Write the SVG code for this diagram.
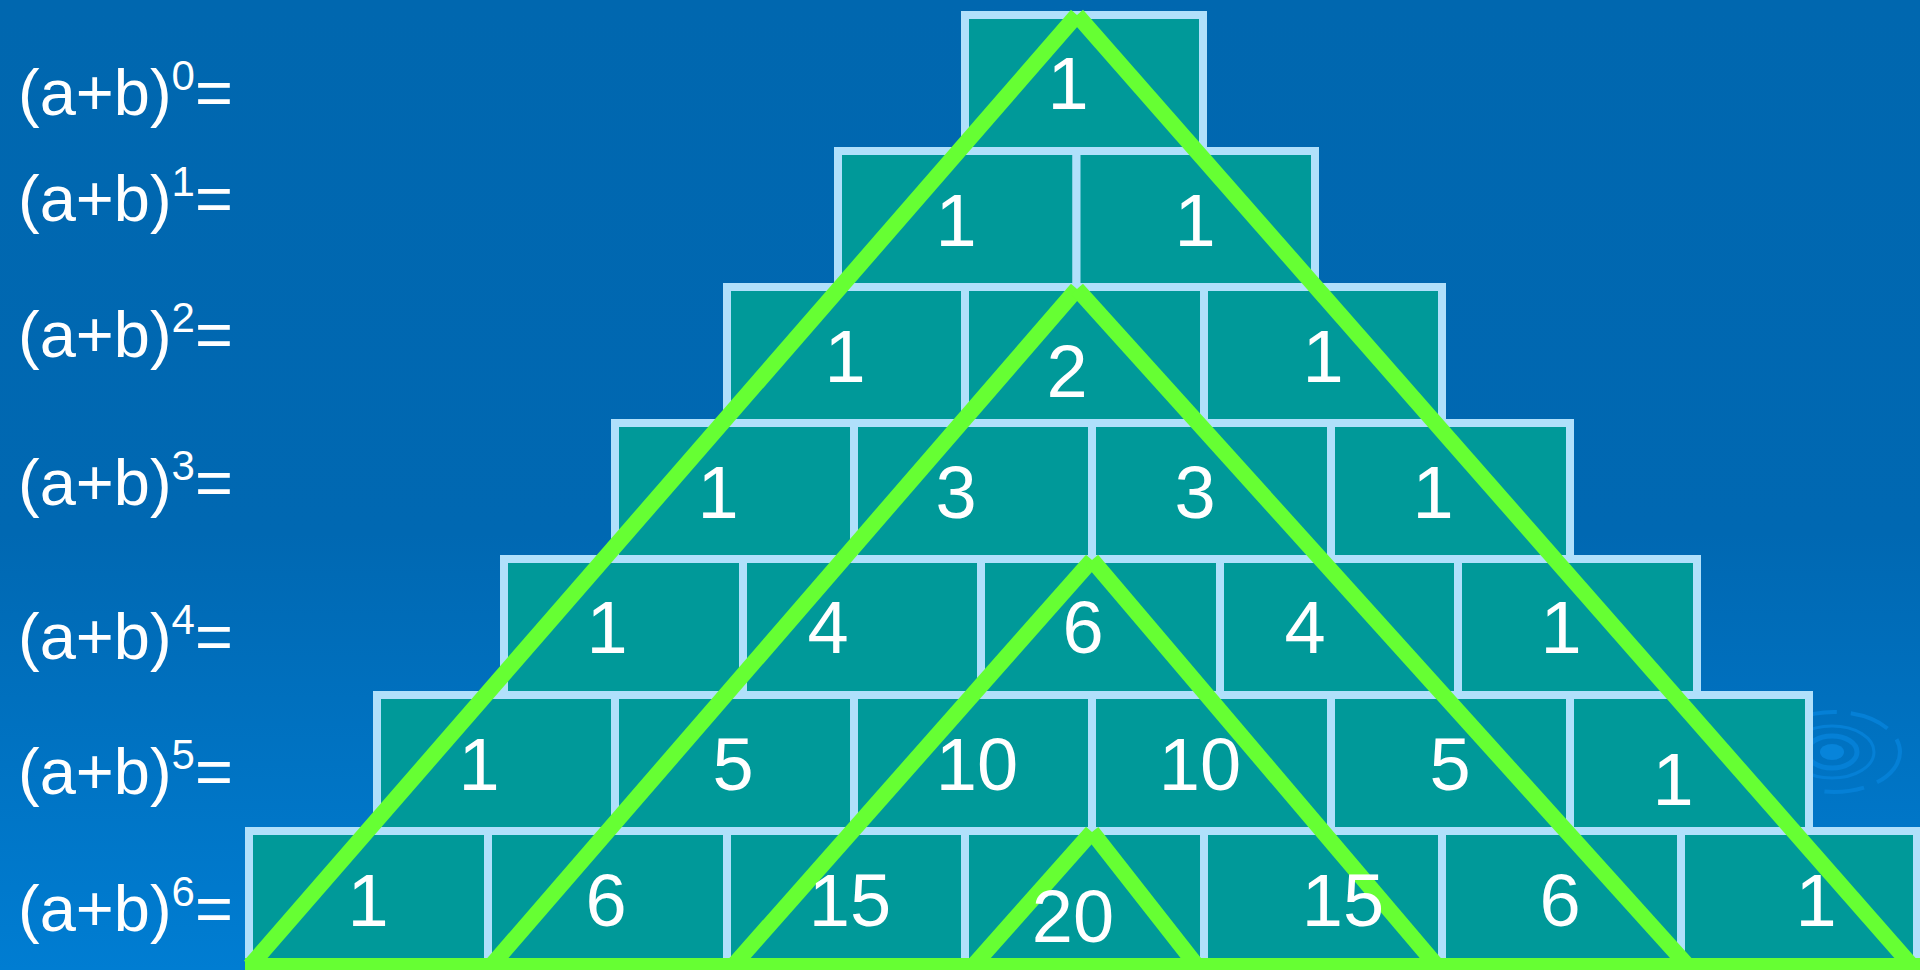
<svg xmlns="http://www.w3.org/2000/svg" width="1920" height="970" viewBox="0 0 1920 970">
<defs>
<linearGradient id="bg" x1="0" y1="0" x2="0" y2="1">
<stop offset="0" stop-color="#0067af"/>
<stop offset="0.55" stop-color="#0068b2"/>
<stop offset="1" stop-color="#007dd2"/>
</linearGradient>
</defs>
<style>
.cell{fill:#009999;stroke:#b0e0fb;stroke-width:8}
.num{font-family:"Liberation Sans",Arial,sans-serif;font-size:74px;fill:#ffffff;text-anchor:middle}
.lbl{font-family:"Liberation Sans",Arial,sans-serif;font-size:65px;fill:#ffffff}
.sup{font-size:42px}
.g{stroke:#66ff33;stroke-width:16;stroke-linecap:butt;fill:none}
.rip{fill:none;stroke:#0580d6}
</style>
<rect x="0" y="0" width="1920" height="970" fill="url(#bg)"/>
<g id="ripple">
<ellipse cx="1832" cy="752" rx="12" ry="8" fill="#0784da"/>
<ellipse class="rip" cx="1832" cy="752" rx="25" ry="16" stroke-width="5"/>
<ellipse class="rip" cx="1832" cy="752" rx="42" ry="26" stroke-width="3"/>
<ellipse class="rip" cx="1834" cy="752" rx="66" ry="40" stroke-width="4" stroke-dasharray="40 14"/>
</g>
<g id="labels">
<text class="lbl" x="18" y="115">(a+b)<tspan class="sup" dy="-25">0</tspan><tspan dy="25">=</tspan></text>
<text class="lbl" x="18" y="221">(a+b)<tspan class="sup" dy="-25">1</tspan><tspan dy="25">=</tspan></text>
<text class="lbl" x="18" y="357">(a+b)<tspan class="sup" dy="-25">2</tspan><tspan dy="25">=</tspan></text>
<text class="lbl" x="18" y="505">(a+b)<tspan class="sup" dy="-25">3</tspan><tspan dy="25">=</tspan></text>
<text class="lbl" x="18" y="659">(a+b)<tspan class="sup" dy="-25">4</tspan><tspan dy="25">=</tspan></text>
<text class="lbl" x="18" y="794">(a+b)<tspan class="sup" dy="-25">5</tspan><tspan dy="25">=</tspan></text>
<text class="lbl" x="18" y="931">(a+b)<tspan class="sup" dy="-25">6</tspan><tspan dy="25">=</tspan></text>
</g>
<g id="cells">
<g id="r0c0"><rect class="cell" x="965" y="15" width="238" height="136"/></g>
<g id="r1c0"><rect class="cell" x="838" y="151" width="238.5" height="136"/></g>
<g id="r1c1"><rect class="cell" x="1076.5" y="151" width="238.5" height="136"/></g>
<g id="r2c0"><rect class="cell" x="727" y="287" width="238" height="136"/></g>
<g id="r2c1"><rect class="cell" x="965" y="287" width="239" height="136"/></g>
<g id="r2c2"><rect class="cell" x="1204" y="287" width="238" height="136"/></g>
<g id="r3c0"><rect class="cell" x="615" y="423" width="239" height="136"/></g>
<g id="r3c1"><rect class="cell" x="854" y="423" width="238" height="136"/></g>
<g id="r3c2"><rect class="cell" x="1092" y="423" width="239" height="136"/></g>
<g id="r3c3"><rect class="cell" x="1331" y="423" width="239" height="136"/></g>
<g id="r4c0"><rect class="cell" x="504" y="559" width="239" height="136"/></g>
<g id="r4c1"><rect class="cell" x="743" y="559" width="238" height="136"/></g>
<g id="r4c2"><rect class="cell" x="981" y="559" width="239" height="136"/></g>
<g id="r4c3"><rect class="cell" x="1220" y="559" width="238" height="136"/></g>
<g id="r4c4"><rect class="cell" x="1458" y="559" width="239" height="136"/></g>
<g id="r5c0"><rect class="cell" x="377" y="695" width="238" height="136"/></g>
<g id="r5c1"><rect class="cell" x="615" y="695" width="239" height="136"/></g>
<g id="r5c2"><rect class="cell" x="854" y="695" width="238" height="136"/></g>
<g id="r5c3"><rect class="cell" x="1092" y="695" width="239" height="136"/></g>
<g id="r5c4"><rect class="cell" x="1331" y="695" width="239" height="136"/></g>
<g id="r5c5"><rect class="cell" x="1570" y="695" width="239" height="136"/></g>
<g id="r6c0"><rect class="cell" x="249" y="831" width="239" height="136"/></g>
<g id="r6c1"><rect class="cell" x="488" y="831" width="239" height="136"/></g>
<g id="r6c2"><rect class="cell" x="727" y="831" width="238" height="136"/></g>
<g id="r6c3"><rect class="cell" x="965" y="831" width="239" height="136"/></g>
<g id="r6c4"><rect class="cell" x="1204" y="831" width="238" height="136"/></g>
<g id="r6c5"><rect class="cell" x="1442" y="831" width="239" height="136"/></g>
<g id="r6c6"><rect class="cell" x="1681" y="831" width="236" height="136"/></g>
</g>
<g id="connectors">
<line class="g" x1="1077" y1="15" x2="250" y2="966"/>
<line class="g" x1="1077" y1="15" x2="1912" y2="966"/>
<line class="g" x1="1077" y1="289" x2="491" y2="966"/>
<line class="g" x1="1077" y1="289" x2="1688" y2="966"/>
<line class="g" x1="1092" y1="560" x2="733" y2="966"/>
<line class="g" x1="1092" y1="560" x2="1437" y2="966"/>
<line class="g" x1="1092" y1="832" x2="973" y2="966"/>
<line class="g" x1="1092" y1="832" x2="1197" y2="966"/>
<line class="g" x1="245" y1="966" x2="1920" y2="966"/>
</g>
<g id="numbers">
<text class="num" x="1068" y="109">1</text>
<text class="num" x="956" y="246">1</text>
<text class="num" x="1195" y="246">1</text>
<text class="num" x="845" y="382">1</text>
<text class="num" x="1067" y="397">2</text>
<text class="num" x="1323" y="382">1</text>
<text class="num" x="718" y="518">1</text>
<text class="num" x="956" y="518">3</text>
<text class="num" x="1195" y="518">3</text>
<text class="num" x="1433" y="518">1</text>
<text class="num" x="607" y="653">1</text>
<text class="num" x="828" y="653">4</text>
<text class="num" x="1083" y="653">6</text>
<text class="num" x="1305" y="653">4</text>
<text class="num" x="1561" y="653">1</text>
<text class="num" x="479" y="790">1</text>
<text class="num" x="733" y="790">5</text>
<text class="num" x="977" y="790">10</text>
<text class="num" x="1200" y="790">10</text>
<text class="num" x="1450" y="790">5</text>
<text class="num" x="1673" y="805">1</text>
<text class="num" x="368" y="926">1</text>
<text class="num" x="606" y="926">6</text>
<text class="num" x="850" y="926">15</text>
<text class="num" x="1073" y="942">20</text>
<text class="num" x="1343" y="926">15</text>
<text class="num" x="1560" y="926">6</text>
<text class="num" x="1816" y="926">1</text>
</g>
</svg>
